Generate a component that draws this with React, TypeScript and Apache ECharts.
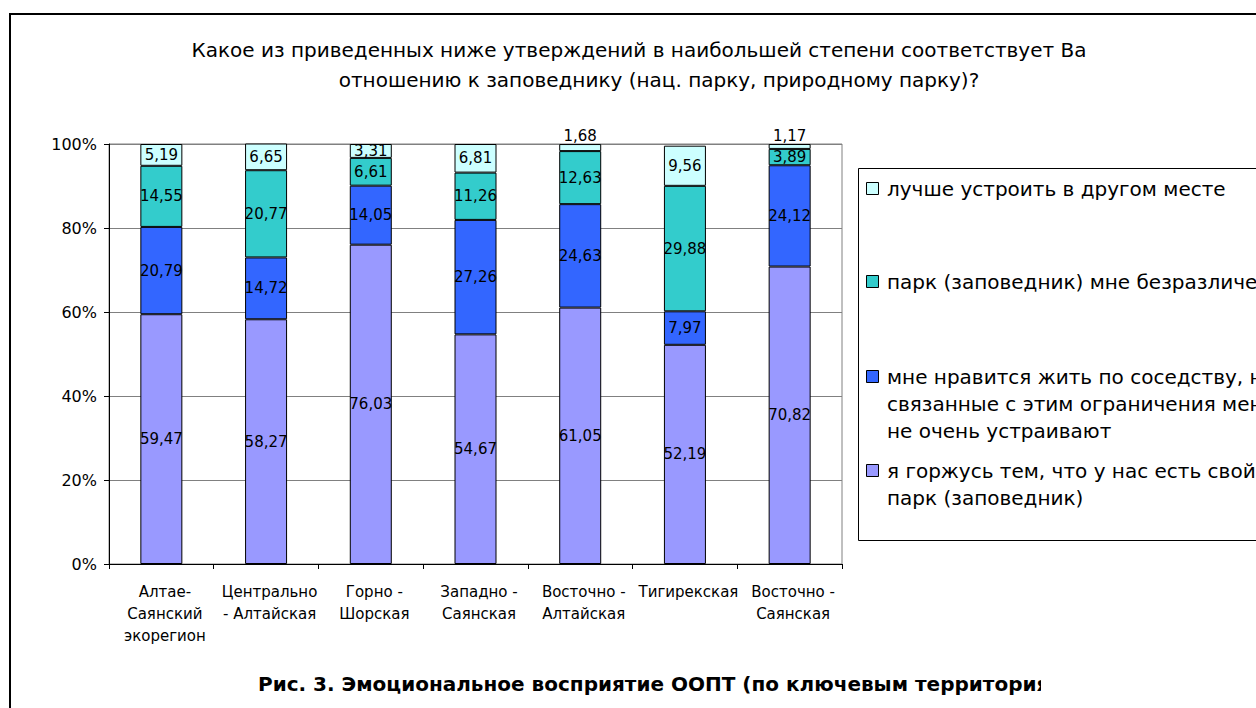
import React, { useEffect, useRef } from 'react';
import * as echarts from 'echarts';

const categories = [
  'Алтае-\nСаянский\nэкорегион',
  'Центрально\n- Алтайская',
  'Горно -\nШорская',
  'Западно -\nСаянская',
  'Восточно -\nАлтайская',
  'Тигирекская',
  'Восточно -\nСаянская',
];

const seriesNames = [
  'я горжусь тем, что у нас есть свой парк (заповедник)',
  'мне нравится жить по соседству, но связанные с этим ограничения меня не очень устраивают',
  'парк (заповедник) мне безразличен',
  'лучше устроить в другом месте',
];

const legendLabels = [
  'я горжусь тем, что у нас есть свой\nпарк (заповедник)',
  'мне нравится жить по соседству, но\nсвязанные с этим ограничения меня\nне очень устраивают',
  'парк (заповедник) мне безразличен',
  'лучше устроить в другом месте',
];

const proud = [59.47, 58.27, 76.03, 54.67, 61.05, 52.19, 70.82];
const likeButLimits = [20.79, 14.72, 14.05, 27.26, 24.63, 7.97, 24.12];
const indifferent = [14.55, 20.77, 6.61, 11.26, 12.63, 29.88, 3.89];
const elsewhere = [5.19, 6.65, 3.31, 6.81, 1.68, 9.56, 1.17];

const colors = ['#9999FF', '#3366FF', '#33CCCC', '#CCFFFF'];

const titleLines = [
  'Какое из приведенных ниже утверждений в наибольшей степени соответствует Ва',
  'отношению к заповеднику (нац. парку, природному парку)?',
];
const caption = 'Рис. 3. Эмоциональное восприятие ООПТ (по ключевым территориям)';

const FONT = '"DejaVu Sans", Verdana, sans-serif';

export default function App() {
  const ref = useRef<HTMLDivElement>(null);

  useEffect(() => {
    if (!ref.current) return;
    const chart = echarts.init(ref.current, undefined, { renderer: 'svg' });
    const allData = [proud, likeButLimits, indifferent, elsewhere];

    const fmt = (v: number) => v.toFixed(2).replace('.', ',');

    const series = allData.map((arr, i) => ({
      name: seriesNames[i],
      type: 'bar',
      stack: 'total',
      barWidth: 42,
      itemStyle: { color: colors[i], borderColor: '#000', borderWidth: 1 },
      label: {
        show: true,
        position: 'inside',
        color: '#000',
        fontFamily: FONT,
        fontSize: 15,
        formatter: (p: any) => fmt(p.value),
      },
      data: arr.map((v) =>
        v < 2 ? { value: v, label: { position: 'top', distance: 1 } } : v
      ),
    }));

    // legend drawn as graphic, top to bottom in reverse stack order
    const legendCenters = [189, 282, 377, 471];
    const legendItems: any[] = [];
    [3, 2, 1, 0].forEach((si, k) => {
      const cy = legendCenters[k];
      legendItems.push({
        type: 'rect',
        shape: { x: 866.5, y: cy - 6.5, width: 12, height: 12 },
        style: { fill: colors[si], stroke: '#000', lineWidth: 1 },
      });
      legendItems.push({
        type: 'text',
        x: 887,
        y: cy - 13.5,
        style: {
          text: legendLabels[si],
          fontFamily: FONT,
          fontSize: 20,
          lineHeight: 27,
          fill: '#000',
          align: 'left',
          verticalAlign: 'top',
        },
      });
    });

    chart.setOption({
      animation: false,
      backgroundColor: '#fff',
      grid: {
        left: 109,
        top: 144,
        width: 733,
        height: 420,
        show: true,
        borderColor: '#808080',
        borderWidth: 1,
        backgroundColor: 'transparent',
      },
      xAxis: {
        type: 'category',
        data: categories,
        axisLine: { show: true, lineStyle: { color: '#000', width: 1 } },
        axisTick: { show: true, length: 5, lineStyle: { color: '#000' } },
        axisLabel: {
          color: '#000',
          fontFamily: FONT,
          fontSize: 15,
          lineHeight: 22,
          margin: 17,
          padding: [0, 0, 0, 7],
          interval: 0,
        },
      },
      yAxis: {
        type: 'value',
        min: 0,
        max: 100,
        interval: 20,
        axisLine: { show: true, lineStyle: { color: '#000', width: 1 } },
        axisTick: { show: true, length: 5, lineStyle: { color: '#000' } },
        axisLabel: {
          color: '#000',
          fontFamily: FONT,
          fontSize: 16,
          margin: 12,
          formatter: '{value}%',
        },
        splitLine: { show: true, lineStyle: { color: '#808080', width: 1 } },
      },
      series,
      graphic: [
        {
          type: 'text',
          x: 639,
          y: 50,
          style: {
            text: titleLines[0],
            fontFamily: FONT,
            fontSize: 20,
            fill: '#000',
            align: 'center',
            verticalAlign: 'middle',
          },
        },
        {
          type: 'text',
          x: 659,
          y: 80,
          style: {
            text: titleLines[1],
            fontFamily: FONT,
            fontSize: 20,
            fill: '#000',
            align: 'center',
            verticalAlign: 'middle',
          },
        },
        {
          type: 'rect',
          shape: { x: 858.5, y: 168.5, width: 600, height: 372 },
          style: { fill: '#fff', stroke: '#000', lineWidth: 1 },
        },
        ...legendItems,
        {
          type: 'text',
          x: 258,
          y: 684,
          style: {
            text: caption,
            fontFamily: FONT,
            fontSize: 20,
            fontWeight: 'bold',
            fill: '#000',
            align: 'left',
            verticalAlign: 'middle',
          },
        },
        {
          type: 'rect',
          shape: { x: 1041, y: 668, width: 230, height: 34 },
          style: { fill: '#fff' },
        },
        {
          type: 'rect',
          shape: { x: 10, y: 14, width: 1400, height: 900 },
          style: { fill: 'none', stroke: '#000', lineWidth: 2 },
          silent: true,
        },
      ],
    });

    return () => chart.dispose();
  }, []);

  return (
    <div
      ref={ref}
      style={{ position: 'fixed', left: 0, top: 0, width: 1256, height: 708 }}
    />
  );
}
